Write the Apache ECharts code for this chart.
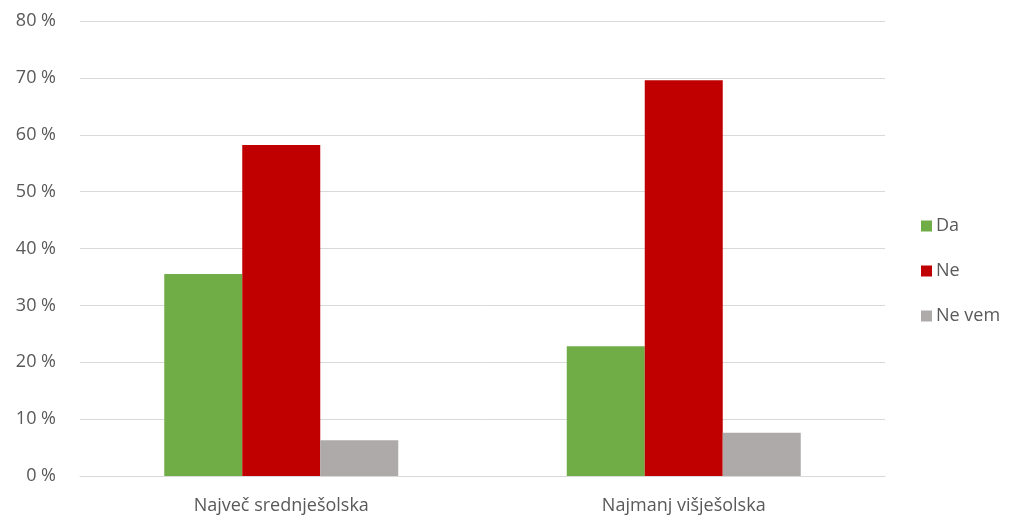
<!DOCTYPE html>
<html>
<head>
<meta charset="utf-8">
<script src="https://cdn.jsdelivr.net/npm/echarts@6/dist/echarts.min.js"></script>
<style>
html, body { margin: 0; padding: 0; background: #fff; }
#chart { width: 1016px; height: 520px; }
</style>
</head>
<body>
<div id="chart"></div>
<script>
var categories = ['Največ srednješolska', 'Najmanj višješolska'];
var seriesNames = ['Da', 'Ne', 'Ne vem'];
var daValues = [35.5, 22.8];
var neValues = [58.2, 69.6];
var neVemValues = [6.3, 7.6];
var colors = ['#70AD47', '#C00000', '#AEAAAA'];

var myChart = echarts.init(document.getElementById('chart'));

function barSeries(name, data, color) {
    return {
        name: name,
        type: 'bar',
        barWidth: 78,
        barGap: 0,
        itemStyle: { color: color },
        data: data
    };
}

var option = {
    animation: false,
    textStyle: { fontFamily: 'Open Sans' },
    legend: {
        orient: 'vertical',
        left: 916,
        top: 212,
        itemWidth: 11,
        itemHeight: 11,
        itemGap: 27,
        icon: 'rect',
        data: seriesNames,
        textStyle: { fontSize: 18, color: '#595959', padding: [0, 0, 0, -1] }
    },
    grid: {
        left: 80,
        right: 131,
        top: 21,
        bottom: 44
    },
    xAxis: {
        type: 'category',
        data: categories,
        axisTick: { show: false },
        axisLine: { lineStyle: { color: '#D9D9D9', width: 1 } },
        axisLabel: { fontSize: 18, color: '#595959', margin: 21 }
    },
    yAxis: {
        type: 'value',
        min: 0,
        max: 80,
        interval: 10,
        axisLabel: {
            fontSize: 18,
            color: '#595959',
            margin: 24,
            formatter: '{value} %'
        },
        splitLine: { lineStyle: { color: '#D9D9D9', width: 1 } }
    },
    series: [
        barSeries(seriesNames[0], daValues, colors[0]),
        barSeries(seriesNames[1], neValues, colors[1]),
        barSeries(seriesNames[2], neVemValues, colors[2])
    ]
};
myChart.setOption(option);
</script>
</body>
</html>
